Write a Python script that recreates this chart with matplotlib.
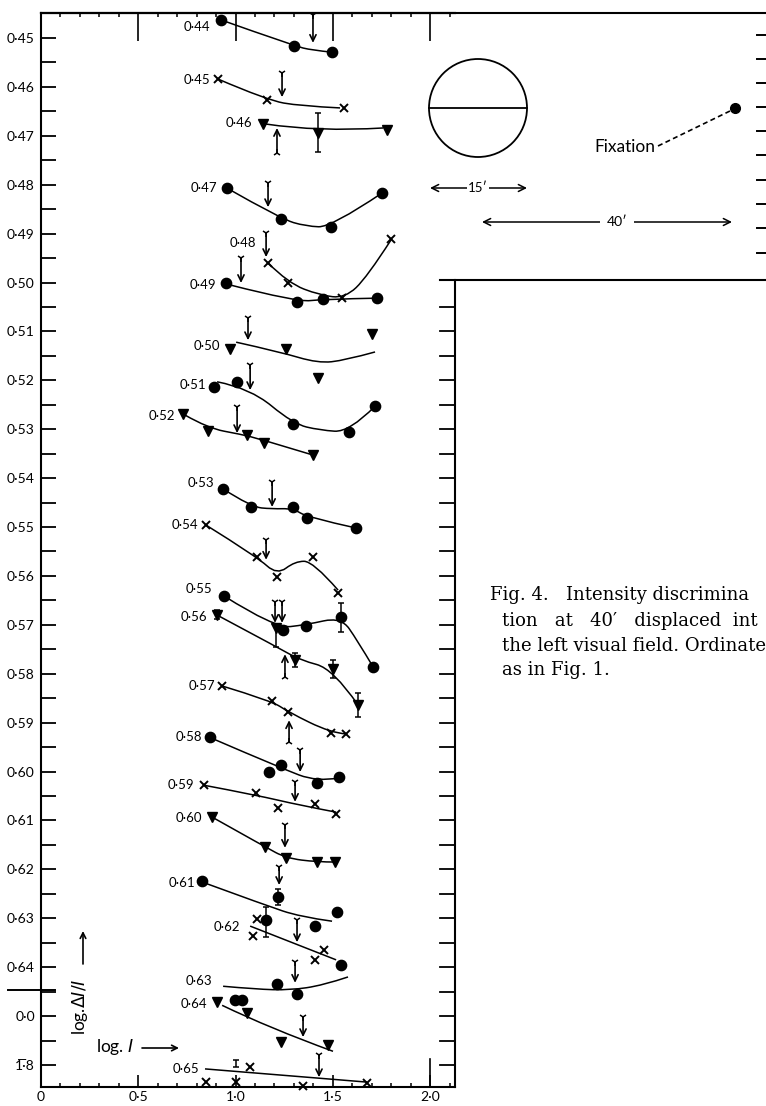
import matplotlib

matplotlib.use("Agg")
import matplotlib.pyplot as plt
from matplotlib.patches import Circle, PathPatch
from matplotlib.path import Path
from matplotlib.ticker import MultipleLocator

plt.rcParams["font.family"] = ["Lato", "DejaVu Sans"]
plt.rcParams["mathtext.fontset"] = "dejavusans"

W, H = 766, 1106

# one run per curve; label printed to the left of each run
CURVE_LABELS = ["0·44", "0·45", "0·46", "0·47", "0·48", "0·49", "0·50", "0·51",
                "0·52", "0·53", "0·54", "0·55", "0·56", "0·57", "0·58", "0·59",
                "0·60", "0·61", "0·62", "0·63", "0·64", "0·65"]
LABEL_X = [0.802, 0.802, 1.018, 0.838, 1.039, 0.833, 0.853, 0.781, 0.622, 0.823, 0.740,
           0.812, 0.787, 0.828, 0.761, 0.720, 0.761, 0.725, 0.956, 0.812, 0.787, 0.746]
LABEL_Y = [0.4478, 0.4586, 0.4674, 0.4807, 0.4919, 0.5005, 0.5130, 0.5210, 0.5273, 0.5410, 0.5496,
           0.5627, 0.5684, 0.5825, 0.5929, 0.6028, 0.6095, 0.6228, 0.6318, 0.6428, 0.6476, 0.6608]

# measured points (x = log I, y = ordinate), one marker letter per point
PTS_X = [
    [0.925, 1.301, 1.496],
    [0.910, 1.162, 1.558],
    [1.141, 1.424, 1.779],
    [0.956, 1.234, 1.491, 1.753],
    [1.167, 1.270, 1.548, 1.799],
    [0.951, 1.316, 1.450, 1.728],
    [0.972, 1.260, 1.424, 1.702],
    [0.889, 1.008, 1.296, 1.584, 1.717],
    [0.730, 0.859, 1.059, 1.147, 1.398],
    [0.936, 1.080, 1.296, 1.368, 1.620],
    [0.848, 1.111, 1.213, 1.398, 1.527],
    [0.941, 1.244, 1.362, 1.542, 1.707],
    [0.905, 1.208, 1.306, 1.501, 1.630],
    [0.931, 1.188, 1.270, 1.491, 1.568],
    [0.869, 1.172, 1.234, 1.419, 1.532],
    [0.838, 1.105, 1.219, 1.409, 1.517],
    [0.879, 1.152, 1.260, 1.419, 1.512],
    [0.828, 1.219, 1.157, 1.409, 1.522],
    [1.111, 1.090, 1.409, 1.455, 1.542],
    [1.213, 1.316],
    [0.905, 0.997, 1.033, 1.059, 1.234, 1.476],
    [0.848, 1.003, 1.075, 1.347, 1.676],
]
PTS_Y = [
    [0.4463, 0.4516, 0.4529],
    [0.4584, 0.4627, 0.4643],
    [0.4676, 0.4694, 0.4688],
    [0.4807, 0.4870, 0.4887, 0.4817],
    [0.4960, 0.5001, 0.5032, 0.4911],
    [0.5001, 0.5040, 0.5034, 0.5032],
    [0.5136, 0.5136, 0.5195, 0.5105],
    [0.5214, 0.5203, 0.5289, 0.5306, 0.5253],
    [0.5269, 0.5304, 0.5312, 0.5328, 0.5353],
    [0.5422, 0.5459, 0.5459, 0.5482, 0.5502],
    [0.5496, 0.5561, 0.5602, 0.5561, 0.5635],
    [0.5641, 0.5711, 0.5702, 0.5684, 0.5786],
    [0.5680, 0.5707, 0.5772, 0.5790, 0.5864],
    [0.5825, 0.5856, 0.5878, 0.5921, 0.5923],
    [0.5929, 0.6001, 0.5987, 0.6024, 0.6011],
    [0.6028, 0.6044, 0.6075, 0.6066, 0.6087],
    [0.6093, 0.6154, 0.6177, 0.6185, 0.6185],
    [0.6224, 0.6257, 0.6304, 0.6316, 0.6287],
    [0.6302, 0.6336, 0.6385, 0.6365, 0.6396],
    [0.6435, 0.6455],
    [0.6471, 0.6467, 0.6467, 0.6494, 0.6553, 0.6559],
    [0.6635, 0.6635, 0.6604, 0.6643, 0.6637],
]
PTS_KIND = ["ooo", "xxx", "vvv", "oooo", "xxxx", "oooo", "vvvv", "ooooo", "vvvvv", "ooooo",
            "xxxxx", "ooooo", "vvvvv", "xxxxx", "ooooo", "xxxxx", "vvvvv", "ooooo", "xxxxo",
            "oo", "voovvv", "xxxxx"]

# hand-drawn curve through each run
LINE_X = [
    [0.925, 1.301, 1.393, 1.496],
    [0.910, 1.162, 1.332, 1.537],
    [1.157, 1.424, 1.758],
    [0.956, 1.234, 1.362, 1.491, 1.753],
    [1.167, 1.270, 1.434, 1.563, 1.676, 1.799],
    [0.972, 1.316, 1.450, 1.728],
    [1.003, 1.229, 1.424, 1.563, 1.717],
    [0.905, 1.075, 1.296, 1.434, 1.584, 1.717],
    [0.740, 0.859, 1.023, 1.126, 1.383],
    [0.936, 1.080, 1.188, 1.296, 1.368, 1.620],
    [0.848, 1.111, 1.213, 1.306, 1.398, 1.527],
    [0.941, 1.203, 1.362, 1.542, 1.625, 1.707],
    [0.905, 1.244, 1.332, 1.501, 1.630],
    [0.931, 1.188, 1.270, 1.491, 1.568],
    [0.884, 1.234, 1.419, 1.532],
    [0.838, 1.105, 1.332, 1.517],
    [0.879, 1.152, 1.260, 1.419, 1.512],
    [0.843, 1.152, 1.332, 1.496],
    [1.075, 1.517],
    [0.936, 1.105, 1.280, 1.450, 1.578],
    [0.931, 1.177, 1.501],
    [0.843, 1.676],
]
LINE_Y = [
    [0.4463, 0.4516, 0.4525, 0.4529],
    [0.4584, 0.4627, 0.4639, 0.4643],
    [0.4676, 0.4692, 0.4684],
    [0.4807, 0.4870, 0.4885, 0.4887, 0.4817],
    [0.4960, 0.5001, 0.5026, 0.5032, 0.4989, 0.4913],
    [0.5005, 0.5040, 0.5034, 0.5032],
    [0.5122, 0.5142, 0.5165, 0.5159, 0.5142],
    [0.5203, 0.5216, 0.5289, 0.5302, 0.5306, 0.5253],
    [0.5271, 0.5298, 0.5310, 0.5320, 0.5351],
    [0.5422, 0.5459, 0.5463, 0.5462, 0.5480, 0.5502],
    [0.5496, 0.5561, 0.5598, 0.5570, 0.5570, 0.5629],
    [0.5641, 0.5707, 0.5700, 0.5684, 0.5731, 0.5786],
    [0.5680, 0.5752, 0.5772, 0.5790, 0.5864],
    [0.5825, 0.5856, 0.5878, 0.5921, 0.5923],
    [0.5933, 0.5993, 0.6021, 0.6013],
    [0.6028, 0.6048, 0.6069, 0.6083],
    [0.6093, 0.6154, 0.6177, 0.6185, 0.6185],
    [0.6228, 0.6273, 0.6297, 0.6306],
    [0.6316, 0.6385],
    [0.6439, 0.6445, 0.6447, 0.6437, 0.6420],
    [0.6478, 0.6525, 0.6572],
    [0.6608, 0.6635],
]

# forked arrows: x, tail, tip
ARROW_X = [1.398, 1.239, 1.213, 1.167, 1.157, 1.028, 1.064, 1.075, 1.008, 1.188, 1.157,
           1.203, 1.239, 1.254, 1.275, 1.332, 1.306, 1.254, 1.224, 1.316, 1.306, 1.347, 1.429]
ARROW_TAIL = [0.4453, 0.4572, 0.4735, 0.4797, 0.4899, 0.4950, 0.5073, 0.5169, 0.5255, 0.5408, 0.5527,
              0.5653, 0.5653, 0.5807, 0.5940, 0.5956, 0.6021, 0.6109, 0.6195, 0.6304, 0.6390, 0.6502, 0.6580]
ARROW_TIP = [0.4510, 0.4621, 0.4684, 0.4846, 0.4948, 0.5001, 0.5118, 0.5220, 0.5308, 0.5459, 0.5567,
             0.5696, 0.5696, 0.5760, 0.5895, 0.6001, 0.6062, 0.6156, 0.6232, 0.6349, 0.6432, 0.6543, 0.6625]

# error bars
ERR_X = [1.424, 1.542, 0.905, 1.208, 1.306, 1.501, 1.630, 1.219, 1.157, 1.003]
ERR_LO = [0.4653, 0.5655, 0.5670, 0.5700, 0.5758, 0.5772, 0.5839, 0.6240, 0.6277, 0.6590]
ERR_HI = [0.4733, 0.5715, 0.5688, 0.5745, 0.5786, 0.5809, 0.5889, 0.6272, 0.6338, 0.6604]

YTICK_POS = [0.45, 0.46, 0.47, 0.48, 0.49, 0.50, 0.51, 0.52, 0.53, 0.54, 0.55,
             0.56, 0.57, 0.58, 0.59, 0.60, 0.61, 0.62, 0.63, 0.64, 0.65, 0.66]
YTICK_LABELS = ["0·45", "0·46", "0·47", "0·48", "0·49", "0·50", "0·51", "0·52", "0·53", "0·54",
                "0·55", "0·56", "0·57", "0·58", "0·59", "0·60", "0·61", "0·62", "0·63", "0·64",
                "0·0", "1\u0305·8"]
XTICK_POS = [0, 0.5, 1.0, 1.5, 2.0]
XTICK_LABELS = ["0", "0·5", "1·0", "1·5", "2·0"]

MARKER_STYLE = {
    "o": dict(marker="o", ms=7.4, mfc="k", mec="k"),
    "x": dict(marker="x", ms=5.5, mew=1.4, mec="k"),
    "v": dict(marker="v", ms=6.5, mfc="k", mec="k"),
}


def smooth_path(xs, ys):
    pts = list(zip(xs, ys))
    if len(pts) == 2:
        return Path(pts, [Path.MOVETO, Path.LINETO])
    verts, codes = [pts[0]], [Path.MOVETO]
    for i in range(1, len(pts) - 1):
        if i < len(pts) - 2:
            end = ((pts[i][0] + pts[i + 1][0]) / 2, (pts[i][1] + pts[i + 1][1]) / 2)
        else:
            end = pts[-1]
        verts += [pts[i], end]
        codes += [Path.CURVE3, Path.CURVE3]
    return Path(verts, codes)


fig = plt.figure(figsize=(W / 100, H / 100), dpi=100)
ax = fig.add_axes([41 / W, 1 - 1087 / H, (455 - 41) / W, (1087 - 13) / H])
ax.set_xlim(0, 2.128)
ax.set_ylim(0.6645, 0.44489)
ax.spines["right"].set_visible(False)
for s in ax.spines.values():
    s.set_linewidth(1.5)

ax.set_xticks(XTICK_POS, XTICK_LABELS)
ax.xaxis.set_minor_locator(MultipleLocator(0.1))
ax.tick_params(axis="x", which="major", direction="in", length=9, width=1.2, pad=3, labelsize=10)
ax.tick_params(axis="x", which="minor", direction="in", length=3, width=1.1)
ax.plot([2.0, 2.0], [0, 0.026], color="k", lw=1.2, transform=ax.get_xaxis_transform(), clip_on=False)

top = ax.secondary_xaxis("top")
top.set_xticks([0.5, 1.0, 1.5, 2.0], labels=[])
top.xaxis.set_minor_locator(MultipleLocator(0.1))
top.tick_params(which="major", direction="in", length=20, width=1.2)
top.tick_params(which="minor", direction="in", length=3, width=1.1)
top.spines["top"].set_linewidth(1.5)

minor_y = [v + 0.005 for v in YTICK_POS[:-1]]
ax.set_yticks(YTICK_POS, YTICK_LABELS)
ax.set_yticks(minor_y, minor=True)
ax.tick_params(axis="y", which="both", direction="in", length=11, width=1.3, pad=4.5, labelsize=10)

# inward ticks on the lower right edge
for v in minor_y[5:] + YTICK_POS[6:]:
    ax.plot([1 - 0.036, 1], [v, v], color="k", lw=1.3, transform=ax.get_yaxis_transform(), clip_on=False)

for i, lab in enumerate(CURVE_LABELS):
    ax.add_patch(PathPatch(smooth_path(LINE_X[i], LINE_Y[i]), fill=False, lw=1.1, ec="k", clip_on=False))
    for x, y, k in zip(PTS_X[i], PTS_Y[i], PTS_KIND[i]):
        ax.plot(x, y, ls="none", clip_on=False, **MARKER_STYLE[k])
    ax.text(LABEL_X[i], LABEL_Y[i], lab, ha="center", va="center", fontsize=9.5)

mid = [(lo + hi) / 2 for lo, hi in zip(ERR_LO, ERR_HI)]
half = [(hi - lo) / 2 for lo, hi in zip(ERR_LO, ERR_HI)]
ax.errorbar(ERR_X, mid, yerr=half, fmt="none", ecolor="k", elinewidth=1.1, capsize=2.5, capthick=1.1)

for x, t0, t1 in zip(ARROW_X, ARROW_TAIL, ARROW_TIP):
    ax.annotate("", xy=(x, t1), xytext=(x, t0),
                arrowprops=dict(arrowstyle="->,head_length=0.45,head_width=0.22", lw=1.2,
                                color="k", shrinkA=0, shrinkB=0))
    ax.plot(x, t0, marker="1" if t1 > t0 else "2", ms=6, mew=1.1, color="k")

# frame pieces and the stimulus sketch, in figure pixels
ov = fig.add_axes([0, 0, 1, 1], facecolor="none")
ov.set_xlim(0, W)
ov.set_ylim(H, 0)
ov.axis("off")
ov.plot([41, 766], [13, 13], color="k", lw=1.5)
ov.plot([440, 766], [280, 280], color="k", lw=1.5)
ov.plot([455, 455], [280, 1087], color="k", lw=1.5)
for y in [35, 59, 83, 107, 131, 155, 180, 204, 228, 253]:
    ov.plot([757, 766], [y, y], color="k", lw=1.4)
ov.plot([8, 55], [990, 990], color="k", lw=1.4)

ov.add_patch(Circle((478, 108), 49, fill=False, lw=1.3, ec="k"))
ov.plot([429, 527], [108, 108], color="k", lw=1.3)
ov.annotate("", xy=(430, 188), xytext=(527, 188),
            arrowprops=dict(arrowstyle="<->,head_length=0.5,head_width=0.25", lw=1.1, color="k",
                            shrinkA=0, shrinkB=0))
ov.text(478, 188, "15\u2032", ha="center", va="center", fontsize=9.5,
        bbox=dict(fc="white", ec="none", pad=1))
ov.annotate("", xy=(482, 222), xytext=(732, 222),
            arrowprops=dict(arrowstyle="<->,head_length=0.5,head_width=0.25", lw=1.1, color="k",
                            shrinkA=0, shrinkB=0))
ov.text(617, 222, "40\u2032", ha="center", va="center", fontsize=10,
        bbox=dict(fc="white", ec="none", pad=5))
ov.plot(735, 108, "o", ms=7, color="k")
ov.plot([658, 730], [146, 111], color="k", lw=1.2, ls=(0, (3, 2)))
ov.text(655, 147, "Fixation", ha="right", va="center", fontsize=12.5)

ov.text(80, 1007, r"log.$\Delta I/I$", rotation=90, ha="center", va="center", fontsize=12.5)
ov.annotate("", xy=(83, 931), xytext=(83, 964),
            arrowprops=dict(arrowstyle="->", lw=1.2, color="k", shrinkA=0, shrinkB=0))
ov.text(96, 1047, r"log. $I$", ha="left", va="center", fontsize=12.5)
ov.annotate("", xy=(179, 1048), xytext=(142, 1048),
            arrowprops=dict(arrowstyle="->", lw=1.2, color="k", shrinkA=0, shrinkB=0))

cap = dict(ha="left", va="center", fontsize=13, family="DejaVu Serif")
ov.text(490, 595, "Fig. 4.   Intensity discrimina", **cap)
ov.text(502, 621, "tion   at   40\u2032   displaced  int", **cap)
ov.text(502, 646, "the left visual field. Ordinate", **cap)
ov.text(502, 670, "as in Fig. 1.", **cap)

fig.savefig("out.png", dpi=100)
